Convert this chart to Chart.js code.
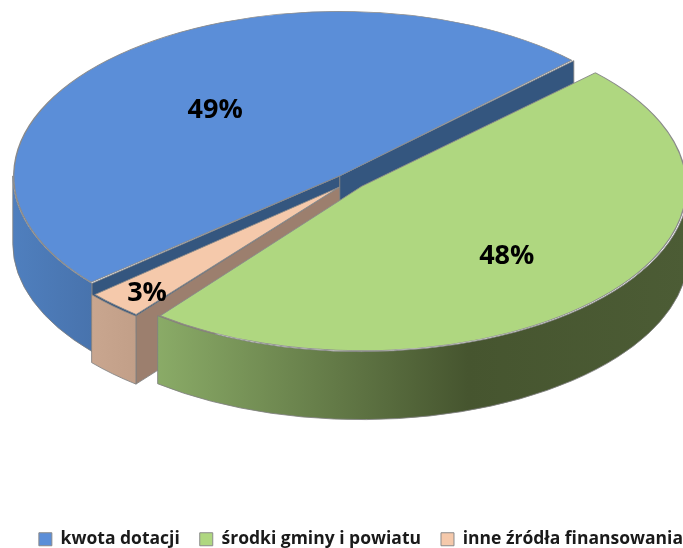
<!DOCTYPE html>
<html lang="pl">
<head>
    <meta charset="UTF-8">
    <title>Źródła finansowania</title>
    <script src="https://cdn.jsdelivr.net/npm/chart.js"></script>
    <style>
        html, body { margin: 0; padding: 0; background: #fff; overflow: hidden; }
        canvas { display: block; }
    </style>
</head>
<body>
    <canvas id="pie3d" width="683" height="548"></canvas>

    <script>
        const categories = ['kwota dotacji', 'środki gminy i powiatu', 'inne źródła finansowania'];
        const shares = [49, 48, 3];

        const topColors = ['#5b8ed8', '#afd780', '#f5c9ab'];
        const wallStops = [
            [[0, '#4f7fbe'], [1, '#4873ad']],
            [[0, '#8aab67'], [0.585, '#46552f'], [1, '#4c5c35']],
            [[0, '#c9a68f'], [1, '#c29f88']]
        ];
        const faceColors = ['#34567f', '#46552f', '#9c7f6e'];
        const labelReachX = [0.564, 0.6, 0.849];
        const labelReachY = [0.536, 0.627, 0.893];

        // projection of the flat pie onto the page
        const centerX = 350, centerY = 181.5, radiusX = 327, radiusY = 165, depth = 68;
        const edgeColor = 'rgba(128,128,128,0.85)';
        const backToFront = [0, 2, 1];

        function geometry(chart) {
            const arcs = chart.getDatasetMeta(0).data;
            const shift = chart.data.datasets[0].offset / 4;
            const full = arcs[0].outerRadius + shift;
            return { arcs, shift, sx: radiusX / full, sy: radiusY / full };
        }

        function drawWalls(chart) {
            const ctx = chart.ctx;
            const { arcs, shift, sx, sy } = geometry(chart);
            backToFront.forEach(i => {
                const arc = arcs[i];
                const mid = (arc.startAngle + arc.endAngle) / 2;
                const tipX = centerX + Math.cos(mid) * shift * sx;
                const tipY = centerY + Math.sin(mid) * shift * sy;
                ctx.strokeStyle = edgeColor;
                ctx.lineWidth = 1;

                // flat cut sides that look towards the viewer
                [[arc.startAngle, -1], [arc.endAngle, 1]].forEach(([a, side]) => {
                    if (Math.sin(a + side * Math.PI / 2) <= 0) return;
                    const ex = tipX + Math.cos(a) * radiusX;
                    const ey = tipY + Math.sin(a) * radiusY;
                    ctx.beginPath();
                    ctx.moveTo(tipX, tipY);
                    ctx.lineTo(ex, ey);
                    ctx.lineTo(ex, ey + depth);
                    ctx.lineTo(tipX, tipY + depth);
                    ctx.closePath();
                    ctx.fillStyle = faceColors[i];
                    ctx.fill();
                    ctx.stroke();
                });

                // curved outer wall, only its front half
                const turn = Math.floor(arc.startAngle / (2 * Math.PI)) * 2 * Math.PI;
                [turn, turn + 2 * Math.PI].forEach(base => {
                    const from = Math.max(arc.startAngle, base);
                    const to = Math.min(arc.endAngle, base + Math.PI);
                    if (to <= from) return;
                    const x0 = tipX + Math.cos(from) * radiusX;
                    const x1 = tipX + Math.cos(to) * radiusX;
                    const grad = ctx.createLinearGradient(Math.min(x0, x1), 0, Math.max(x0, x1), 0);
                    wallStops[i].forEach(([p, c]) => grad.addColorStop(p, c));
                    ctx.fillStyle = grad;
                    ctx.beginPath();
                    ctx.ellipse(tipX, tipY, radiusX, radiusY, 0, from, to);
                    ctx.ellipse(tipX, tipY + depth, radiusX, radiusY, 0, to, from, true);
                    ctx.closePath();
                    ctx.fill();
                    ctx.stroke();
                });
            });
        }

        const pie3d = {
            id: 'pie3d',
            beforeDatasetsDraw(chart) {
                drawWalls(chart);
                const { arcs, sx, sy } = geometry(chart);
                chart.ctx.save();
                chart.ctx.translate(centerX, centerY);
                chart.ctx.scale(sx, sy);
                chart.ctx.translate(-arcs[0].x, -arcs[0].y);
            },
            afterDatasetsDraw(chart) {
                chart.ctx.restore();
                const ctx = chart.ctx;
                const { arcs, shift, sx, sy } = geometry(chart);
                ctx.save();
                ctx.fillStyle = '#000';
                ctx.font = 'bold 27px "Open Sans"';
                ctx.textAlign = 'center';
                ctx.textBaseline = 'middle';
                arcs.forEach((arc, i) => {
                    const mid = (arc.startAngle + arc.endAngle) / 2;
                    const x = centerX + Math.cos(mid) * (shift * sx + labelReachX[i] * radiusX);
                    const y = centerY + Math.sin(mid) * (shift * sy + labelReachY[i] * radiusY);
                    ctx.fillText(shares[i] + '%', x, y);
                });
                ctx.restore();
            }
        };

        new Chart(document.getElementById('pie3d'), {
            type: 'pie',
            data: {
                labels: categories,
                datasets: [{
                    data: shares,
                    backgroundColor: topColors,
                    borderColor: '#8a8a8a',
                    borderWidth: 1,
                    borderJoinStyle: 'round',
                    offset: 45,
                    clip: false
                }]
            },
            options: {
                responsive: false,
                animation: false,
                events: [],
                rotation: 229.3,
                layout: { padding: { bottom: -10, right: -20 } },
                plugins: {
                    tooltip: { enabled: false },
                    legend: {
                        position: 'bottom',
                        align: 'end',
                        labels: {
                            boxWidth: 13,
                            boxHeight: 13,
                            padding: 20,
                            color: '#1a1a1a',
                            font: { family: 'Open Sans', size: 17.5, weight: 'bold' }
                        }
                    }
                }
            },
            plugins: [pie3d]
        });
    </script>
</body>
</html>
